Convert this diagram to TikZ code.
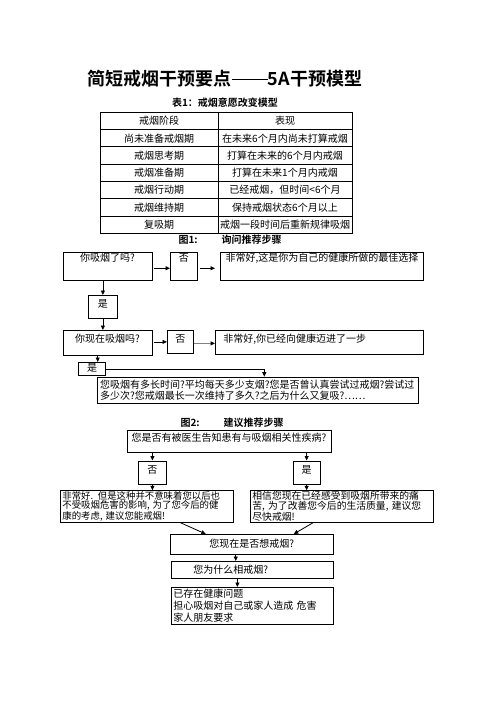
\documentclass[tikz,border=0pt]{standalone}
\usepackage{fontspec}
\setmainfont{Noto Sans CJK SC}[BoldFont={Noto Sans CJK SC Bold}]
\usetikzlibrary{arrows.meta}
\begin{document}
\begin{tikzpicture}[x=1pt,y=-1pt,
  box/.style={draw, line width=0.8pt, inner sep=0pt, anchor=north west, font=\fontsize{10}{12}\selectfont},
  cell/.style={inner sep=0pt, font=\fontsize{10}{12}\selectfont},
  ttl/.style={font=\bfseries\fontsize{10}{12}\selectfont},
  arr/.style={-{Triangle[length=4.5pt,width=4pt]}, line width=0.8pt},
  grayarr/.style={-{Triangle[length=4.5pt,width=4pt,color=black]}, line width=1.8pt, draw=gray}]
\useasboundingbox (0,0) rectangle (496,702);

% titles
\node[font=\bfseries\fontsize{18}{20}\selectfont] (title) at (225,79) {简短戒烟干预要点\rule[6pt]{36pt}{1.3pt}5A干预模型};
\node[ttl] (sub) at (225,103) {表1：戒烟意愿改变模型};

% table
\draw[line width=0.8pt] (100,112.3) rectangle (352,233.3);
\foreach \i in {1,...,6} \draw[line width=0.8pt] (100,{112.3+17.286*\i}) -- (352,{112.3+17.286*\i});
\draw[line width=0.8pt] (218,112.3) -- (218,233.3);
\foreach \a/\b [count=\k] in {戒烟阶段/表现, 尚未准备戒烟期/在未来6个月内尚未打算戒烟, 戒烟思考期/打算在未来的6个月内戒烟, 戒烟准备期/打算在未来1个月内戒烟, 戒烟行动期/已经戒烟，但时间<6个月, 戒烟维持期/保持戒烟状态6个月以上, 复吸期/戒烟一段时间后重新规律吸烟} {
  \node[cell] at (159,{112.3+17.286*\k-8.643}) {\a};
  \node[cell] at (285,{112.3+17.286*\k-8.643}) {\b};
}

% figure 1
\node[ttl, anchor=west] (f1) at (175,240) {图1:\hspace{24pt}询问推荐步骤};
\node[box, minimum width=89pt, text height=9.1pt, text depth=19.2pt] (q1) at (62.7,251.7) {你吸烟了吗?};
\node[box, minimum width=26.7pt, text height=9.1pt, text depth=19.2pt] (n1) at (170,251.7) {否};
\node[box, minimum width=203pt, text height=9.1pt, text depth=19.2pt] (r1) at (220,251.7) {非常好,这是你为自己的健康所做的最佳选择};
\node[box, minimum width=28.4pt, text height=11.8pt, text depth=10.9pt] (y1) at (88.3,295) {是};
\node[box, minimum width=89pt, text height=11.8pt, text depth=13.2pt] (q2) at (62.7,330) {你现在吸烟吗?};
\node[box, minimum width=26pt, text height=11.8pt, text depth=11.2pt] (n2) at (167,330) {否};
\node[box, text width=192pt, inner xsep=8pt, align=left, text height=11.8pt, text depth=12.2pt] (r2) at (215,330) {非常好,你已经向健康迈进了一步};
\node[box, minimum width=27pt, text height=8.8pt, text depth=4.2pt] (y2) at (78.3,362) {是};
\node[box, text width=315pt, inner xsep=3pt, align=left, minimum height=26.3pt, font=\fontsize{10}{10.5}\selectfont] (cq) at (96.7,376.7) {您吸烟有多长时间?平均每天多少支烟?您是否曾认真尝试过戒烟?尝试过\\多少次?您戒烟最长一次维持了多久?之后为什么又复吸?……};

\draw[arr, shorten <=1.5pt] ([yshift=-2pt]q1.east) -- ([yshift=-2pt]n1.west);
\draw[arr, shorten >=5pt, shorten <=2pt] ([yshift=-2pt]n1.east) -- ([yshift=-2pt]r1.west);
\draw[arr] (q1.south -| y1.north) -- (y1.north);
\draw[arr] (y1.south) -- (y1.south |- q2.north);
\draw[arr, shorten <=1.5pt] (q2.east |- n2.west) -- (n2.west);
\draw[grayarr] ([yshift=-1.5pt]n2.east) -- ([yshift=-1.5pt]n2.east -| r2.west);
\draw[arr] ([xshift=5.5pt]y2.north |- q2.south) -- ([xshift=5.5pt]y2.north);
\draw[arr] (y2.east) -| ([xshift=6.7pt]cq.north);

% figure 2
\node[ttl, anchor=west] (f2) at (177,423) {图2:\hspace{24pt}建议推荐步骤};
\node[box, minimum width=204pt, text height=10.8pt, text depth=11.5pt] (d) at (126.7,430) {您是否有被医生告知患有与吸烟相关性疾病?};
\node[box, minimum width=28pt, text height=12.3pt, text depth=10.7pt] (n3) at (138,460.5) {否};
\node[box, minimum width=27.5pt, text height=12.3pt, text depth=10.7pt] (y3) at (292.5,460.5) {是};
\node[box, text width=169.3pt, inner xsep=2pt, inner ysep=0.8pt, align=left, minimum height=29.2pt, font=\fontsize{9.4}{9.4}\selectfont] (e) at (60,490.3) {非常好. 但是这种并不意味着您以后也\\不受吸烟危害的影响, 为了您今后的健\\康的考虑, 建议您能戒烟!};
\node[box, text width=178.7pt, inner xsep=2pt, inner ysep=0.8pt, align=left, minimum height=29.2pt, font=\fontsize{9.8}{9.4}\selectfont] (f) at (250,490.3) {相信您现在已经感受到吸烟所带来的痛\\苦, 为了改善您今后的生活质量, 建议您\\尽快戒烟!};
\node[box, minimum width=162.7pt, text height=12.8pt, text depth=7.2pt] (g) at (170,534) {您现在是否想戒烟?};
\node[box, text width=118pt, inner xsep=22pt, align=left, text height=11.8pt, text depth=5.2pt] (h) at (171,561) {您为什么相戒烟?};
\node[box, text width=158pt, inner xsep=2pt, align=left, minimum height=37pt, font=\fontsize{10}{12}\selectfont] (i) at (171,587) {已存在健康问题\\担心吸烟对自己或家人造成 危害\\家人朋友要求};

\draw[arr] (n3.north |- d.south) -- (n3.north);
\draw[arr] (y3.north |- d.south) -- (y3.north);
\draw[arr] (n3.south) -- (n3.south |- e.north);
\draw[arr] (y3.south) -- (y3.south |- f.north);
\draw[arr] ([xshift=33.3pt]e.south) -- ([xshift=-46pt]g.north);
\draw[arr] ([xshift=-28pt]f.south) -- ([xshift=42pt]g.north);
\draw[arr] ([xshift=-16pt]g.south) -- ([xshift=-16pt]g.south |- h.north);
\draw[arr] ([xshift=-15pt]h.south) -- ([xshift=-15pt]h.south |- i.north);
\end{tikzpicture}
\end{document}
